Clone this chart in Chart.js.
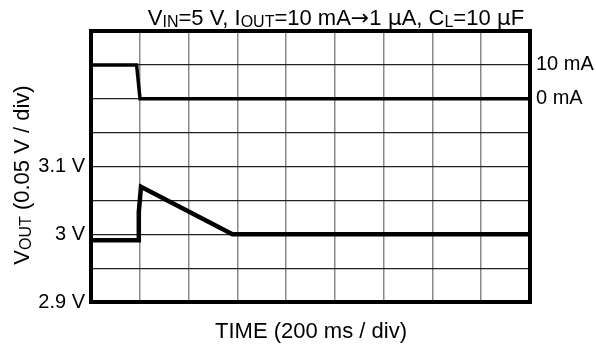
<!DOCTYPE html>
<html>
<head>
<meta charset="utf-8">
<script src="https://cdn.jsdelivr.net/npm/chart.js@4/dist/chart.umd.min.js"></script>
<style>
  html, body { margin: 0; padding: 0; background: #fff; }
  canvas { display: block; }
</style>
</head>
<body>
<canvas id="scope" width="596" height="347"></canvas>
<script>
'use strict';

// ---- data ----
// load current step (right axis, mA)
const TIME_I_MS = [0, 187, 201, 1800];
const CURRENT_MA = [10, 10, 0, 0];

// output voltage (left axis, V)
const TIME_V_MS = [0, 195, 196, 205, 580, 1800];
const VOUT_V = [2.991, 2.991, 3.033, 3.070, 3.0, 3.0];

// tick labels
const VOUT_TICK_VALUES = [2.9, 3.0, 3.1];
const VOUT_TICK_LABELS = ['2.9 V', '3 V', '3.1 V'];
const IOUT_TICK_VALUES = [0, 10];
const IOUT_TICK_LABELS = ['0 mA', '10 mA'];

const FONT = "'Liberation Sans', Arial, sans-serif";
const SYMBOL_FONT = "'DejaVu Sans', sans-serif";
const TICK_SIZE = 20;
const TITLE_SIZE = 22;

function pickLabel(values, labels) {
  return v => {
    const i = values.findIndex(t => Math.abs(t - v) < 1e-6);
    return i >= 0 ? labels[i] : '';
  };
}

// draws text with subscripts: segments = [{t, sub, sym}], centred on x
function drawRich(ctx, segs, x, y, size) {
  const subSize = Math.round(size * 0.74);
  const fontOf = s => `${s.sub ? subSize : size}px ${s.sym ? SYMBOL_FONT : FONT}`;
  let w = 0;
  segs.forEach(s => {
    ctx.font = fontOf(s);
    s.w = ctx.measureText(s.t).width;
    w += s.w;
  });
  let cx = x - w / 2;
  ctx.textAlign = 'left';
  ctx.textBaseline = 'alphabetic';
  segs.forEach(s => {
    ctx.font = fontOf(s);
    ctx.fillText(s.t, cx, y + (s.sub ? 2 : 0));
    cx += s.w;
  });
}

const frameAndTitles = {
  id: 'frameAndTitles',
  afterDatasetsDraw(chart) {
    const { ctx, chartArea: a } = chart;
    ctx.save();
    ctx.strokeStyle = '#000';
    ctx.lineWidth = 4;
    ctx.strokeRect(a.left, a.top, a.right - a.left, a.bottom - a.top);
    ctx.restore();
  },
  afterDraw(chart) {
    const { ctx } = chart;
    ctx.save();
    ctx.fillStyle = '#000';
    drawRich(ctx, [
      { t: 'V' }, { t: 'IN', sub: true }, { t: '=5 V, I' }, { t: 'OUT', sub: true },
      { t: '=10 mA' }, { t: '\u2192', sym: true }, { t: '1 ' }, { t: '\u00b5', sym: true },
      { t: 'A, C' }, { t: 'L', sub: true }, { t: '=10 ' }, { t: '\u00b5', sym: true }, { t: 'F' },
    ], 336, 25, TITLE_SIZE);

    drawRich(ctx, [{ t: 'TIME (200 ms / div)' }], 311, 338, TITLE_SIZE);

    ctx.translate(29, 175);
    ctx.rotate(-Math.PI / 2);
    drawRich(ctx, [{ t: 'V' }, { t: 'OUT', sub: true }, { t: ' (0.05 V / div)' }], 0, 0, TITLE_SIZE);
    ctx.restore();
  },
};

new Chart(document.getElementById('scope'), {
  type: 'line',
  data: {
    datasets: [
      {
        label: 'IOUT',
        data: TIME_I_MS.map((t, i) => ({ x: t, y: CURRENT_MA[i] })),
        yAxisID: 'yI',
        borderColor: '#000',
        borderWidth: 3.5,
        pointRadius: 0,
        tension: 0,
        borderJoinStyle: 'miter',
      },
      {
        label: 'VOUT',
        data: TIME_V_MS.map((t, i) => ({ x: t, y: VOUT_V[i] })),
        yAxisID: 'y',
        borderColor: '#000',
        borderWidth: 4.5,
        pointRadius: 0,
        tension: 0,
        borderJoinStyle: 'miter',
      },
    ],
  },
  options: {
    responsive: false,
    animation: false,
    devicePixelRatio: 1,
    layout: { padding: { top: 31, left: 0, right: 0, bottom: 0 } },
    plugins: {
      legend: { display: false },
      tooltip: { enabled: false },
    },
    scales: {
      x: {
        type: 'linear',
        min: 0,
        max: 1800,
        border: { display: false },
        grid: { color: '#8a8a8a', lineWidth: 1.5, drawTicks: false },
        ticks: { stepSize: 200, callback: () => '' },
        afterFit(s) { s.height = 45; },
      },
      y: {
        position: 'left',
        min: 2.9,
        max: 3.3,
        border: { display: false },
        grid: { color: '#222', lineWidth: 1.2, drawTicks: false },
        ticks: {
          stepSize: 0.05,
          padding: 6,
          color: '#000',
          font: { family: FONT, size: TICK_SIZE },
          callback: pickLabel(VOUT_TICK_VALUES, VOUT_TICK_LABELS),
        },
        afterFit(s) { s.width = 91; },
      },
      yI: {
        position: 'right',
        min: -60,
        max: 20,
        border: { display: false },
        grid: { display: false, drawTicks: false },
        ticks: {
          stepSize: 10,
          padding: 6,
          color: '#000',
          font: { family: FONT, size: TICK_SIZE },
          callback: pickLabel(IOUT_TICK_VALUES, IOUT_TICK_LABELS),
        },
        afterFit(s) { s.width = 66; },
      },
    },
  },
  plugins: [frameAndTitles],
});
</script>
</body>
</html>
